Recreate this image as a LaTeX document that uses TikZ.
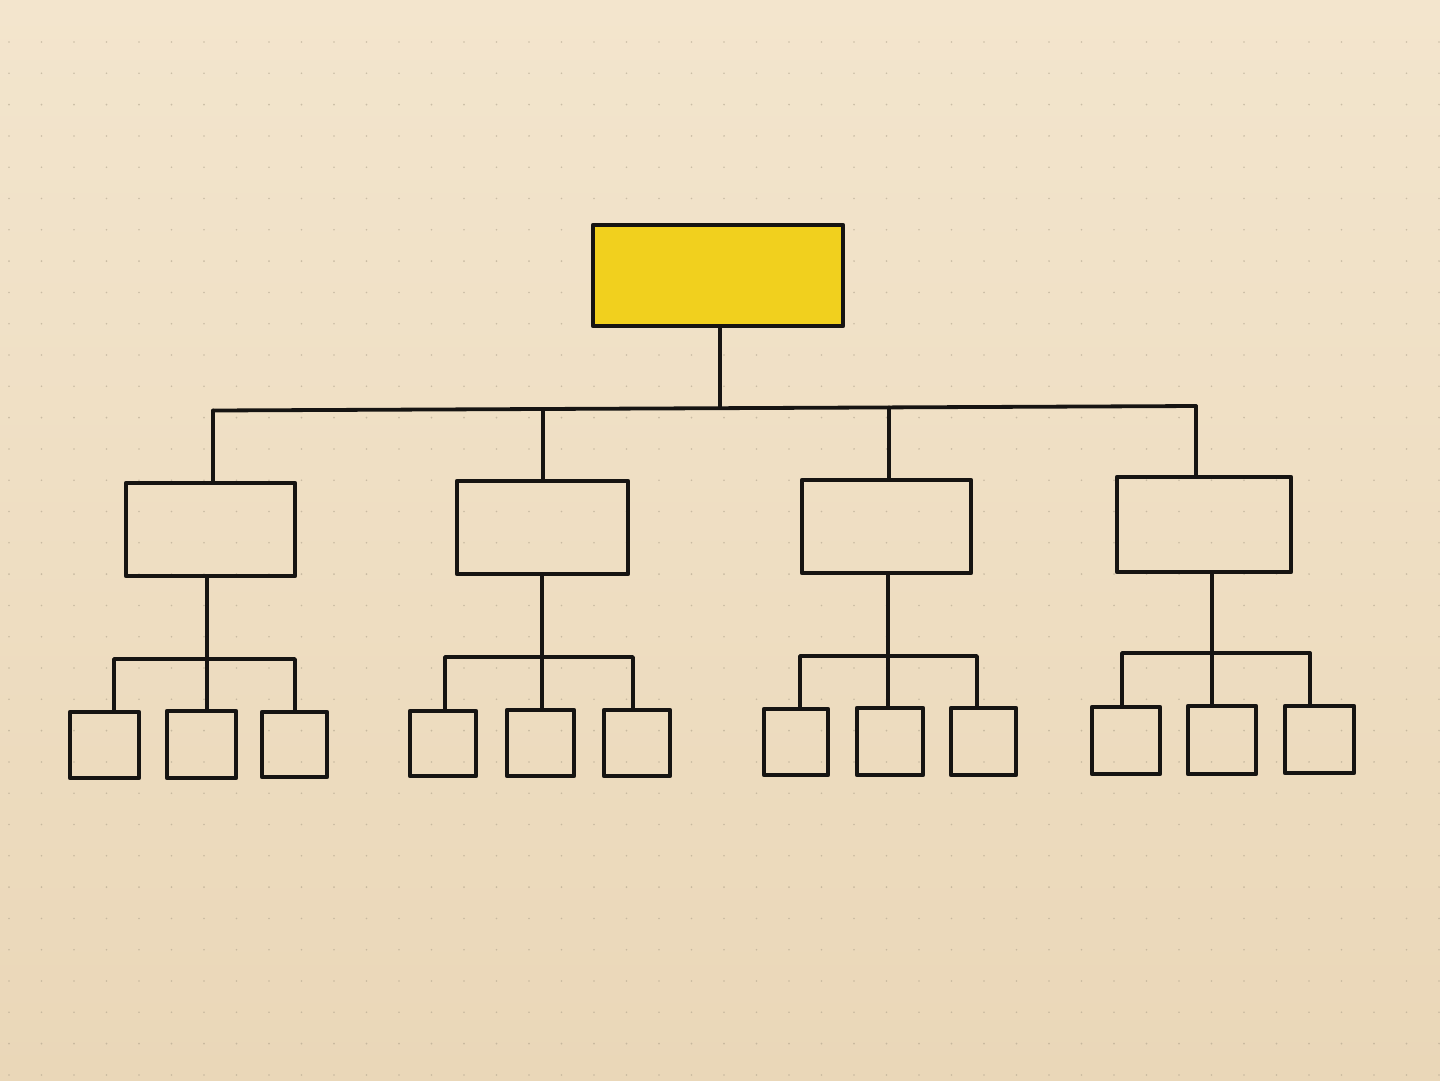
\documentclass[tikz,border=0pt]{standalone}
\usetikzlibrary{calc}
\definecolor{ink}{RGB}{22,20,18}
\definecolor{paperTop}{RGB}{243,229,205}
\definecolor{paperBot}{RGB}{234,215,184}
\definecolor{marker}{RGB}{241,208,30}
\definecolor{dotc}{RGB}{170,158,136}
\begin{document}
\begin{tikzpicture}[x=1pt,y=-1pt,
  box/.style={draw=ink, line width=4.2pt, line join=round, inner sep=0pt, outer sep=0pt, anchor=north west},
  conn/.style={draw=ink, line width=3.8pt, line cap=round, line join=round}]
\useasboundingbox (0,0) rectangle (1440,1080);
\shade[top color=paperTop, bottom color=paperBot] (0,0) rectangle (1440,1080);
% dot grid
\foreach \i in {0,...,44}{
  \foreach \j in {0,...,33}{
    \fill[dotc, opacity=0.55] ({9+32.5*\i},{42+31.3*\j}) circle (0.9pt);
  }
}
% root
\node[box, fill=marker, minimum width=250pt, minimum height=101pt] (root) at (593,225) {};
% mid level
\node[box, minimum width=169pt, minimum height=93pt] (m1) at (126,483) {};
\node[box, minimum width=171pt, minimum height=93pt] (m2) at (457,481) {};
\node[box, minimum width=169pt, minimum height=93pt] (m3) at (802,480) {};
\node[box, minimum width=174pt, minimum height=95pt] (m4) at (1117,477) {};
% leaves
\node[box, minimum width=69pt, minimum height=66pt] (l11) at (70,712) {};
\node[box, minimum width=69pt, minimum height=67pt] (l12) at (167,711) {};
\node[box, minimum width=65pt, minimum height=65pt] (l13) at (262,712) {};
\node[box, minimum width=66pt, minimum height=65pt] (l21) at (410,711) {};
\node[box, minimum width=67pt, minimum height=66pt] (l22) at (507,710) {};
\node[box, minimum width=66pt, minimum height=66pt] (l23) at (604,710) {};
\node[box, minimum width=64pt, minimum height=66pt] (l31) at (764,709) {};
\node[box, minimum width=66pt, minimum height=67pt] (l32) at (857,708) {};
\node[box, minimum width=65pt, minimum height=67pt] (l33) at (951,708) {};
\node[box, minimum width=68pt, minimum height=67pt] (l41) at (1092,707) {};
\node[box, minimum width=68pt, minimum height=68pt] (l42) at (1188,706) {};
\node[box, minimum width=69pt, minimum height=67pt] (l43) at (1285,706) {};
% top bar
\coordinate (j0) at (720,408);
\coordinate (t1) at (213,410.5);
\coordinate (t2) at (543,409);
\coordinate (t3) at (889,407.5);
\coordinate (t4) at (1196,406);
\draw[conn] (j0 |- root.south) -- (j0);
\draw[conn] (t1) -- (t4);
\draw[conn] (t1) -- (t1 |- m1.north);
\draw[conn] (t2) -- (t2 |- m2.north);
\draw[conn] (t3) -- (t3 |- m3.north);
\draw[conn] (t4) -- (t4 |- m4.north);
% group bars
\coordinate (a1) at (114,659); \coordinate (k1) at (207,659); \coordinate (b1) at (295,659);
\coordinate (a2) at (445,657); \coordinate (k2) at (542,657); \coordinate (b2) at (633,657);
\coordinate (a3) at (800,656); \coordinate (k3) at (888,656); \coordinate (b3) at (977,656);
\coordinate (a4) at (1122,653); \coordinate (k4) at (1212,653); \coordinate (b4) at (1310,653);
\foreach \g in {1,2,3,4}{
  \draw[conn] (k\g |- m\g.south) -- (k\g |- l\g2.north);
  \draw[conn] (a\g |- l\g1.north) -- (a\g) -- (b\g) -- (b\g |- l\g3.north);
}
\end{tikzpicture}
\end{document}
